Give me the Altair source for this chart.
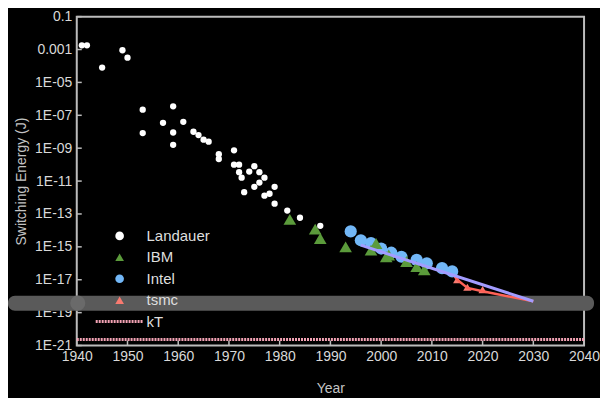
import json
import altair as alt
import pandas as pd

# ---------------- data ----------------
landauer_year = [1941, 1942, 1945, 1949, 1950, 1953, 1953, 1957, 1959, 1959, 1959, 1961,
                 1963, 1964, 1965, 1966, 1968, 1968, 1971, 1971, 1972, 1972, 1972.5, 1973,
                 1974, 1975, 1975, 1976, 1976, 1977, 1977, 1978, 1979, 1979, 1981.5, 1984, 1988]
landauer_energy = [1.8e-3, 1.8e-3, 8e-5, 9e-4, 3.2e-4, 2.2e-7, 8.3e-9, 3.5e-8, 3.5e-7, 9e-9, 1.6e-9, 4e-8,
                   1e-8, 6.3e-9, 3.3e-9, 2.5e-9, 4.3e-10, 2.2e-10, 7.4e-10, 1e-10, 1e-10, 3.5e-11, 1.6e-11, 2.1e-12,
                   3.8e-11, 8e-11, 4.5e-12, 3.5e-11, 8.1e-12, 1.6e-11, 1.3e-12, 1.7e-12, 4.5e-12, 4.2e-13, 1.6e-13, 5.9e-14, 1.9e-14]

ibm_year = [1982, 1987, 1988, 1993, 1998, 1999, 2001, 2001.5, 2005, 2007, 2008.5]
ibm_energy = [4.7e-14, 1.2e-14, 3.2e-15, 1e-15, 6.3e-16, 1.6e-15, 2.5e-16, 3.2e-16, 1.3e-16, 6.3e-17, 4e-17]

intel_year = [1994, 1996, 1998, 2000, 2002, 2004, 2007, 2009, 2012, 2014]
intel_energy = [8.7e-15, 2.5e-15, 1.7e-15, 7.9e-16, 4.4e-16, 2.5e-16, 1.6e-16, 1e-16, 5.1e-17, 3.2e-17]

tsmc_year = [2015, 2017, 2020]
tsmc_energy = [1e-17, 3.5e-18, 2.5e-18]

intel_fit_year = [1996, 2030]
intel_fit_energy = [1.26e-15, 4.9e-19]

tsmc_fit_year = [2014.5, 2015, 2017, 2020, 2030]
tsmc_fit_energy = [1.6e-17, 1e-17, 3.2e-18, 2e-18, 4.9e-19]

kt_year = [1940, 2040]
kt_energy = [2.3e-21, 2.3e-21]

x_ticks = list(range(1940, 2041, 10))
y_ticks = [1e-1, 1e-3, 1e-5, 1e-7, 1e-9, 1e-11, 1e-13, 1e-15, 1e-17, 1e-19, 1e-21]
y_labels = ['0.1', '0.001', '1E-05', '1E-07', '1E-09', '1E-11', '1E-13', '1E-15', '1E-17', '1E-19', '1E-21']

legend_labels = ['Landauer', 'IBM', 'Intel', 'tsmc', 'kT']
legend_colors = ['#ffffff', '#5b9b3b', '#72b7f7', '#f87a70']
legend_shapes = ['circle', 'triangle-up', 'circle', 'triangle-up']

# ---------------- styling ----------------
FONT = 'Liberation Sans'
AXIS_COL = '#bcbcbc'
LABEL_COL = '#d9d9d9'
TITLE_COL = '#c4c4c4'
W, H = 509, 330

xs = alt.Scale(domain=[1940, 2040], nice=False, zero=False)
ys = alt.Scale(type='log', domain=[1e-21, 0.1], nice=False)

label_expr = json.dumps(y_labels) + "[round((-log(datum.value)/LN10 - 1)/2)]"

x_axis = alt.Axis(values=x_ticks, format='d', ticks=False, domain=False, grid=False,
                  labelFontSize=14, labelColor=LABEL_COL, labelPadding=4, labelFlush=False,
                  labelFont=FONT, title='Year', titleFont=FONT, titleFontSize=14,
                  titleFontWeight='normal', titleColor=TITLE_COL, titlePadding=18)
y_axis = alt.Axis(values=y_ticks, labelExpr=label_expr, ticks=False, domain=False, grid=False,
                  labelFontSize=14, labelColor=LABEL_COL, labelPadding=5, labelFlush=False,
                  labelOverlap=False, labelFont=FONT, title='Switching Energy (J)', titleFont=FONT,
                  titleFontSize=14, titleFontWeight='normal', titleColor=TITLE_COL, titlePadding=6)


def df(xv, yv):
    return pd.DataFrame({'year': xv, 'energy': yv})


def X():
    return alt.X('year:Q', scale=xs, axis=x_axis)


def Y():
    return alt.Y('energy:Q', scale=ys, axis=y_axis)


# inward tick marks
xtick_layer = alt.Chart(pd.DataFrame({'year': x_ticks})).mark_rule(
    color=AXIS_COL, strokeWidth=1.5).encode(
    x=X(), y=alt.value(H), y2=alt.value(H - 5))
ytick_layer = alt.Chart(pd.DataFrame({'energy': y_ticks})).mark_rule(
    color=AXIS_COL, strokeWidth=1.5).encode(
    y=Y(), x=alt.value(0), x2=alt.value(5))

kt_layer = alt.Chart(df(kt_year, kt_energy)).mark_line(
    color='#f3a3b5', strokeWidth=3, strokeDash=[2, 1]).encode(x=X(), y=Y())

intel_layer = alt.Chart(df(intel_year, intel_energy)).mark_circle(
    size=150, color='#72b7f7', opacity=1).encode(x=X(), y=Y())
ibm_layer = alt.Chart(df(ibm_year, ibm_energy)).mark_point(
    shape='triangle-up', filled=True, size=160, color='#5b9b3b', opacity=1).encode(x=X(), y=Y())
landauer_layer = alt.Chart(df(landauer_year, landauer_energy)).mark_circle(
    size=40, color='#ffffff', opacity=1).encode(x=X(), y=Y())
tsmc_layer = alt.Chart(df(tsmc_year, tsmc_energy)).mark_point(
    shape='triangle-up', filled=True, size=70, color='#f87a70', opacity=1).encode(x=X(), y=Y())
tsmc_fit_layer = alt.Chart(df(tsmc_fit_year, tsmc_fit_energy)).mark_line(
    color='#ff6257', strokeWidth=2.5).encode(x=X(), y=Y())
intel_fit_layer = alt.Chart(df(intel_fit_year, intel_fit_energy)).mark_line(
    color='#a39cff', strokeWidth=3).encode(x=X(), y=Y())

main = alt.layer(xtick_layer, ytick_layer, kt_layer, intel_layer, ibm_layer, landauer_layer,
                 tsmc_layer, tsmc_fit_layer, intel_fit_layer)

# grey highlight band (as in the reference screenshot)
band = alt.Chart(pd.DataFrame({'a': [0]})).mark_rect(
    color='#5a5a5a', cornerRadius=7).encode(
    x=alt.value(-69), x2=alt.value(519), y=alt.value(280), y2=alt.value(295))
band_dot = alt.Chart(pd.DataFrame({'a': [0]})).mark_circle(
    color='#6a6a6a', size=230, opacity=1).encode(x=alt.value(1), y=alt.value(287.5))

# legend
leg_y = alt.Scale(type='point', domain=legend_labels, range=[220, 306], padding=0)
leg_df = pd.DataFrame({'label': legend_labels[:4], 'color': legend_colors, 'shape': legend_shapes})
leg_pts = alt.Chart(leg_df).mark_point(filled=True, size=75, opacity=1).encode(
    x=alt.value(43),
    y=alt.Y('label:N', scale=leg_y, axis=None),
    color=alt.Color('label:N', scale=alt.Scale(domain=legend_labels[:4], range=legend_colors), legend=None),
    shape=alt.Shape('label:N', scale=alt.Scale(domain=legend_labels[:4], range=legend_shapes), legend=None))
leg_rule = alt.Chart(pd.DataFrame({'label': ['kT']})).mark_rule(
    color='#f3a3b5', strokeWidth=3, strokeDash=[2, 1]).encode(
    x=alt.value(19), x2=alt.value(66), y=alt.Y('label:N', scale=leg_y, axis=None))
leg_text = alt.Chart(pd.DataFrame({'label': legend_labels})).mark_text(
    align='left', baseline='middle', fontSize=15, font=FONT, color='#dedede').encode(
    x=alt.value(70), y=alt.Y('label:N', scale=leg_y, axis=None), text='label:N')
legend = alt.layer(leg_pts, leg_rule, leg_text)

chart = alt.layer(band, band_dot, main, legend).resolve_scale(
    x='independent', y='independent', color='independent', shape='independent'
).properties(
    width=W, height=H,
    autosize=alt.AutoSizeParams(type='none'),
    padding={'left': 69, 'top': 8, 'right': 16, 'bottom': 52},
    background='black'
).configure_view(stroke=AXIS_COL, strokeWidth=2)

chart.save("out.html", embed_options={"renderer": "svg", "actions": False})
